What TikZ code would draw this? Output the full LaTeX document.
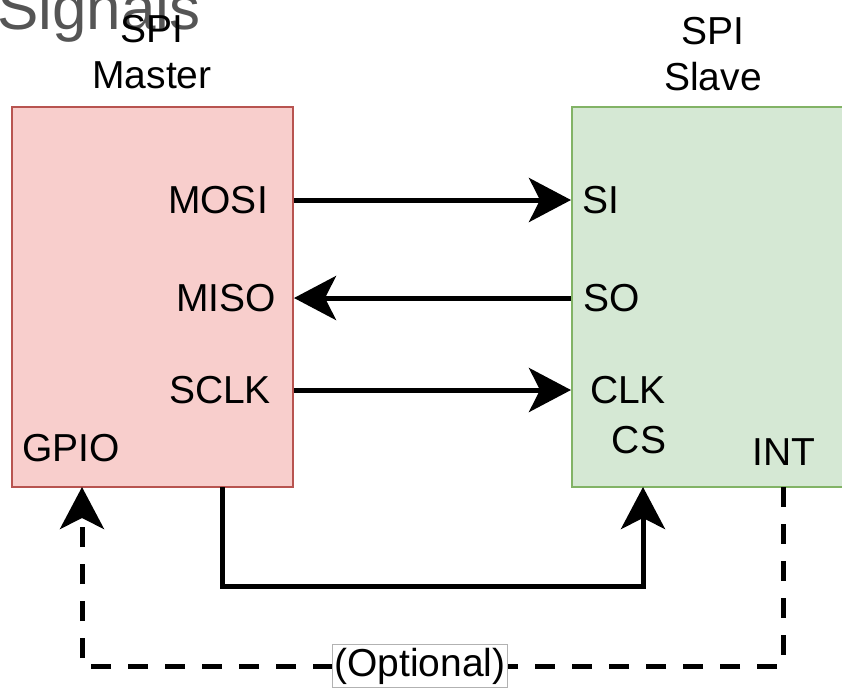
\documentclass[tikz,border=0pt]{standalone}
\usepackage{fontspec}
\setmainfont{Liberation Sans}
\usepackage{xcolor}
\usetikzlibrary{arrows.meta, positioning, calc}
\definecolor{masterfill}{HTML}{F8CECC}
\definecolor{masterline}{HTML}{B85450}
\definecolor{slavefill}{HTML}{D5E8D4}
\definecolor{slaveline}{HTML}{82B366}
\definecolor{titlegray}{HTML}{555555}
\tikzset{
    block/.style={
        rectangle,
        draw,
        line width=2pt,
        minimum height=380pt,
        inner sep=0pt
    },
    masterblock/.style={
        block,
        draw=masterline,
        fill=masterfill,
        minimum width=281pt
    },
    slaveblock/.style={
        block,
        draw=slaveline,
        fill=slavefill,
        minimum width=278pt
    },
    pin/.style={
        inner sep=0pt,
        font=\fontsize{39}{46}\selectfont
    },
    title/.style={
        inner sep=0pt,
        align=center,
        font=\fontsize{39}{46}\selectfont
    },
    wire/.style={
        draw=black,
        line width=5pt,
        -{Stealth[length=42pt, width=44pt, inset=11pt]}
    },
    optwire/.style={
        wire,
        dash pattern=on 20pt off 17pt
    },
    note/.style={
        draw=black!30,
        line width=1pt,
        fill=white,
        inner xsep=2pt,
        inner ysep=3pt,
        font=\fontsize{39}{46}\selectfont
    }
}
\begin{document}
\begin{tikzpicture}[x=1pt, y=-1pt]
\useasboundingbox (0,0) rectangle (842,689);

% Blocks
\node[masterblock] (master) at (152.5,297) {};
\node[slaveblock] (slave) at (711,297) {};

% Titles
\node[text=titlegray, inner sep=0pt, font=\fontsize{62}{70}\selectfont, anchor=base west] (signals) at (-3,29) {Signals};
\node[title] (mastertitle) at (152,52) {SPI\\Master};
\node[title] (slavetitle) at (713,54) {SPI\\Slave};

% Master pins
\node[pin] (mosi) at (218,200) {MOSI};
\node[pin] (miso) at (226,298) {MISO};
\node[pin] (sclk) at (220,390) {SCLK};
\node[pin] (gpio) at (71,448) {GPIO};

% Slave pins
\node[pin] (si) at (601,200) {SI};
\node[pin] (so) at (612,298) {SO};
\node[pin] (clk) at (628,390) {CLK};
\node[pin] (cs) at (639,440) {CS};
\node[pin] (int) at (784,452) {INT};

% Data lines
\draw[wire] (master.east |- mosi) -- (slave.west |- mosi);
\draw[wire] (slave.west |- miso) -- (master.east |- miso);
\draw[wire] (master.east |- sclk) -- (slave.west |- sclk);

% Chip select
\coordinate (csout) at (222,487);
\coordinate (csin) at (643,487);
\draw[wire] (csout) -- ++(0,99) -| (csin);

% Interrupt (optional)
\coordinate (intout) at (783,487);
\coordinate (gpioin) at (82,487);
\draw[optwire] (intout) -- ++(0,179) -| (gpioin);
\node[note] (optional) at (420,666) {(Optional)};

\end{tikzpicture}
\end{document}
